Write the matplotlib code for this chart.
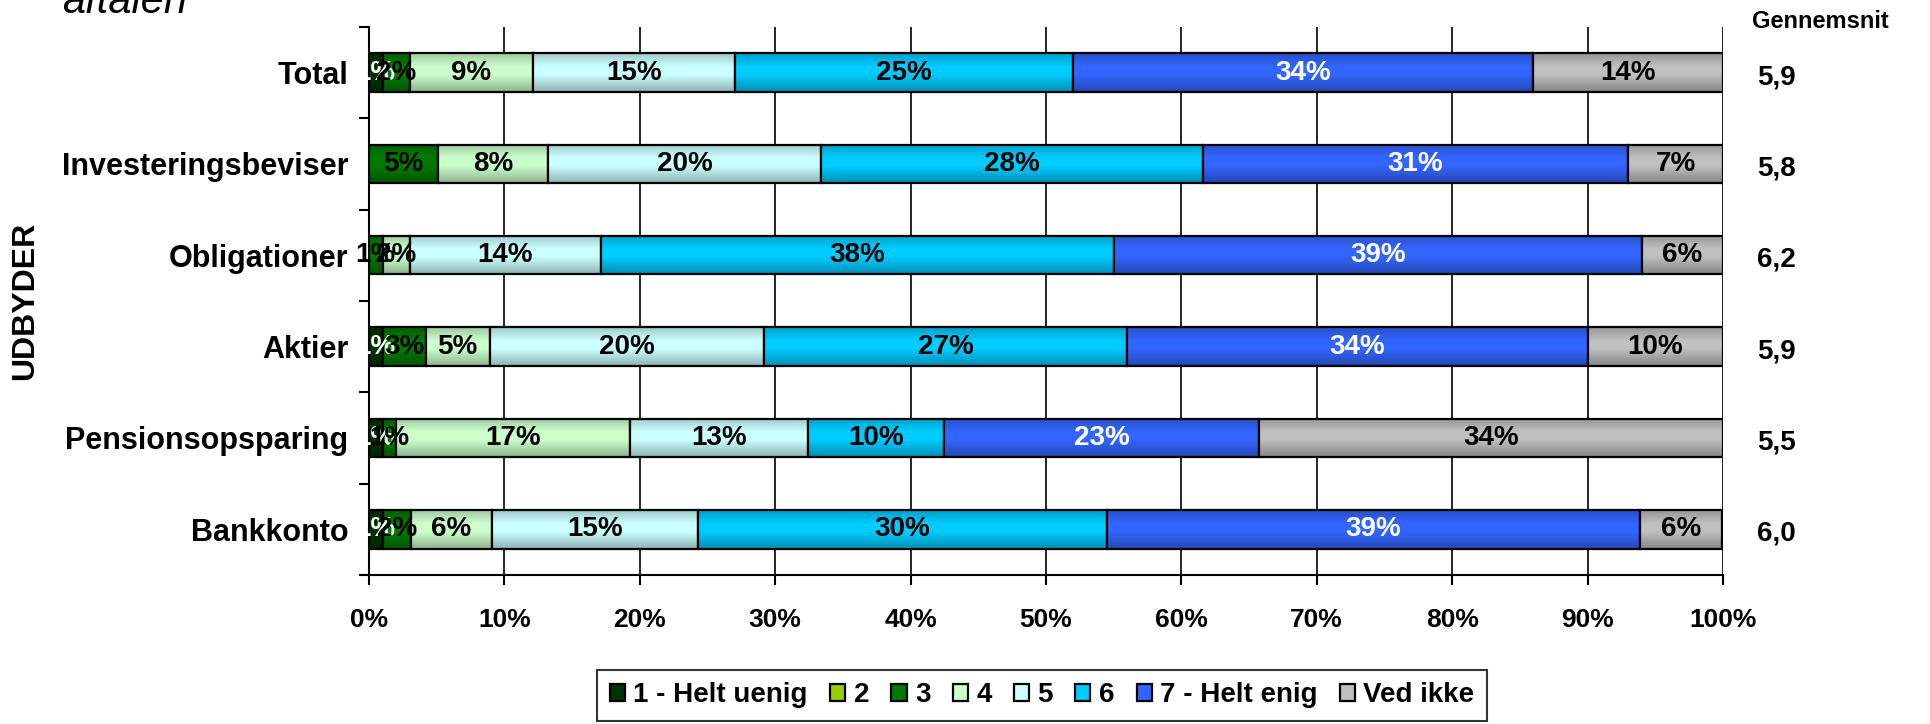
import numpy as np
import matplotlib
matplotlib.use('Agg')
import matplotlib.pyplot as plt
from matplotlib.ticker import FixedLocator

plt.rcParams['font.family'] = ['Liberation Sans', 'DejaVu Sans']
plt.rcParams['font.weight'] = 'bold'

# kategorier (øverst -> nederst)
udbydere = ['Total', 'Investeringsbeviser', 'Obligationer', 'Aktier',
            'Pensionsopsparing', 'Bankkonto']
svar = ['1 - Helt uenig', '2', '3', '4', '5', '6', '7 - Helt enig', 'Ved ikke']

# andele i procent pr. svarkategori (samme rækkefølge som udbydere)
helt_uenig = [1.0, 0.0, 0.0, 1.0, 1.0, 1.0]
svar_2 = [0.0, 0.0, 0.0, 0.0, 0.0, 0.0]
svar_3 = [2.0, 5.1, 1.0, 3.2, 1.0, 2.1]
svar_4 = [9.1, 8.1, 2.0, 4.7, 17.3, 6.0]
svar_5 = [14.9, 20.2, 14.1, 20.3, 13.1, 15.2]
svar_6 = [25.0, 28.2, 37.9, 26.8, 10.1, 30.2]
helt_enig = [34.0, 31.4, 39.0, 34.0, 23.2, 39.4]
ved_ikke = [14.0, 7.0, 6.0, 10.0, 34.3, 6.0]

gennemsnit = ['5,9', '5,8', '6,2', '5,9', '5,5', '6,0']

serier = [helt_uenig, svar_2, svar_3, svar_4, svar_5, svar_6, helt_enig, ved_ikke]
farver = ['#003300', '#99cc00', '#007a00', '#ccffcc', '#ccffff', '#00ccff',
          '#3366ff', '#c0c0c0']
tekstfarver = ['white', 'black', 'black', 'black', 'black', 'black', 'white', 'black']

fig = plt.figure(figsize=(19.3, 7.24), dpi=100)
ax = fig.add_axes([0.1912, 0.2058, 0.7015, 0.757])

h = 0.42
y = np.arange(len(udbydere))
venstre = np.zeros(len(udbydere))
for vals, farve, tf, navn in zip(serier, farver, tekstfarver, svar):
    vals = np.array(vals)
    ax.barh(y, vals, left=venstre, height=h, color=farve,
            edgecolor='black', linewidth=1.6, label=navn, zorder=3)
    for yi, v, l in zip(y, vals, venstre):
        if v > 0:
            ax.text(l + v / 2, yi, f'{round(v)}%', ha='center', va='center',
                    fontsize=20, fontweight='bold', color=tf, zorder=5)
    venstre += vals

# svag excel-agtig gradient ovenpå bjælkerne
t = np.linspace(0, 1, 60)
alfa = np.where(t < 0.35, 0.22 * (1 - t / 0.35), 0.0) + np.where(t > 0.55, 0.3 * (t - 0.55) / 0.45, 0.0)
grad = np.zeros((60, 1, 4))
grad[:, 0, 3] = alfa
for yi, total in zip(y, venstre):
    ax.imshow(grad, extent=(0, total, yi + h / 2, yi - h / 2), aspect='auto',
              origin='upper', zorder=4, interpolation='bilinear')

ax.set_xlim(0, 100)
ax.set_ylim(len(udbydere) - 0.5, -0.5)
ax.set_xticks(np.arange(0, 101, 10))
ax.set_xticklabels([f'{v}%' for v in range(0, 101, 10)], fontsize=19, fontweight='bold')
ax.set_yticks(y)
ax.set_yticklabels(udbydere, fontsize=22, fontweight='bold')
ax.tick_params(axis='y', length=0, pad=15)
ax.yaxis.set_minor_locator(FixedLocator(np.arange(-0.5, len(udbydere), 1)))
ax.tick_params(axis='y', which='minor', length=7, width=1.5)
ax.tick_params(axis='x', length=7, width=1.5, pad=17)
ax.grid(axis='x', color='black', linewidth=1.2, zorder=0)
for s in ['top', 'right']:
    ax.spines[s].set_visible(False)
for s in ['left', 'bottom']:
    ax.spines[s].set_linewidth(1.5)

ax.set_ylabel('UDBYDER', fontsize=23, fontweight='bold')
ax.yaxis.set_label_coords(-0.243, 0.5)

# gennemsnit til højre
fig.text(1752 / 1930, 1 - 10 / 724, 'Gennemsnit', ha='left', va='top',
         fontsize=17, fontweight='bold')
for yi, g in zip(y, gennemsnit):
    ax.text(102.5, yi + 0.05, g, ha='left', va='center', fontsize=20,
            fontweight='bold', clip_on=False)

# afskåret titel
fig.text(62 / 1930, 1 - 13 / 724, 'aftalen', fontsize=30, style='italic',
         fontweight='normal', ha='left', va='baseline')

leg = fig.legend(loc='lower center', bbox_to_anchor=(0.54, -0.015), ncol=8,
                 fontsize=20, frameon=True, fancybox=False, edgecolor='black',
                 handlelength=0.55, handleheight=0.55, handletextpad=0.3,
                 columnspacing=0.8, borderpad=0.45)
leg.get_frame().set_linewidth(1.5)

fig.savefig('out.png', dpi=100)
